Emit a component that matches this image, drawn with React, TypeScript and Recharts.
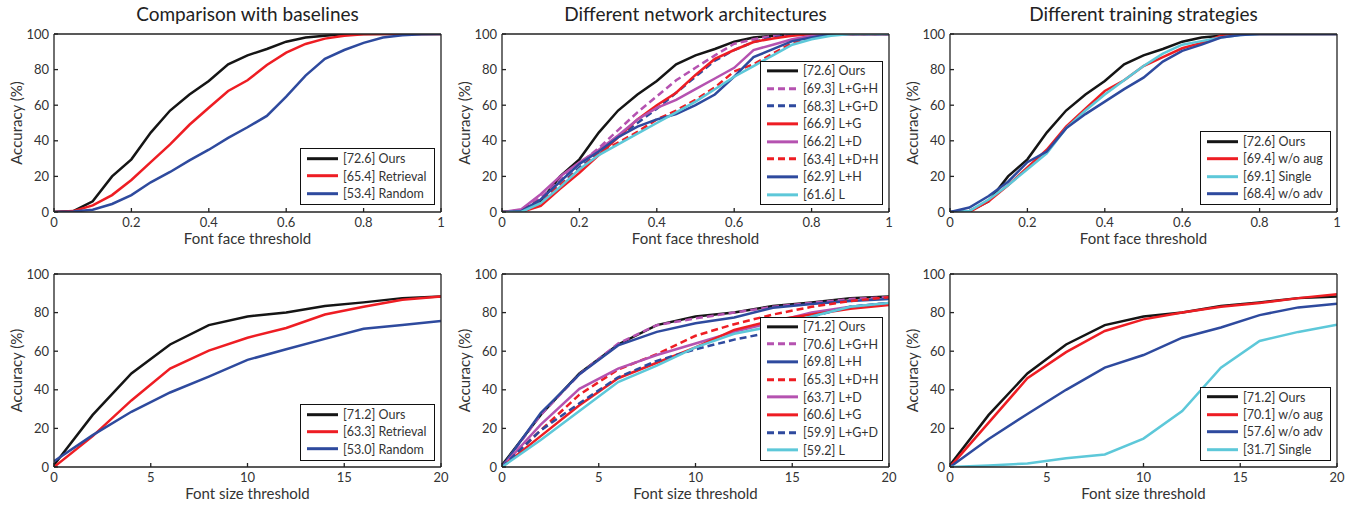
import React from 'react';
import { LineChart, Line, XAxis, YAxis, Legend } from 'recharts';

// ---------- data ----------
const FACE_X = [0, 0.05, 0.1, 0.15, 0.2, 0.25, 0.3, 0.35, 0.4, 0.45, 0.5, 0.55, 0.6, 0.65, 0.7, 0.75, 0.8, 0.85, 0.9, 0.95, 1];
const SIZE_X = [0, 2, 4, 6, 8, 10, 12, 14, 16, 18, 20];
const FACE_TICKS = [0, 0.2, 0.4, 0.6, 0.8, 1];
const SIZE_TICKS = [0, 5, 10, 15, 20];
const Y_TICKS = [0, 20, 40, 60, 80, 100];

const TITLES = ['Comparison with baselines', 'Different network architectures', 'Different training strategies'];
const FACE_LABEL = 'Font face threshold';
const SIZE_LABEL = 'Font size threshold';
const Y_LABEL = 'Accuracy (%)';

// font face – baselines
const faceOurs = [0, 0.5, 6, 20, 29.6, 44.6, 57, 66, 73.6, 83, 88, 91.6, 95.7, 98, 99, 100, 100, 100, 100, 100, 100];
const faceRetrieval = [0, 0.5, 3.7, 9.5, 18, 28, 38, 49, 58.6, 68, 74, 82.6, 89.5, 94.4, 97.4, 99, 99.8, 100, 100, 100, 100];
const faceRandom = [0, 0.3, 1.3, 4.5, 9.5, 16.7, 22.5, 29, 35, 41.6, 47.6, 54, 64.8, 76.6, 86, 91, 95, 98, 99.3, 99.8, 100];

// font face – architectures
const faceLGH = [0, 1, 8, 18, 27, 36, 46, 56, 65, 74, 81, 88, 94.5, 97, 99, 100, 100, 100, 100, 100, 100];
const faceLGD = [0, 0.5, 6, 15, 25, 33, 42, 50, 58, 67, 76, 85, 91, 95.5, 98, 99.5, 100, 100, 100, 100, 100];
const faceLG = [0, 0, 3.5, 13, 22, 32, 42, 52, 60, 67, 77, 86, 91, 95.5, 97.5, 99, 100, 100, 100, 100, 100];
const faceLD = [0, 1.5, 10, 20, 28, 35, 43, 52, 58.5, 63, 69, 75, 81, 91, 94, 97, 99, 100, 100, 100, 100];
const faceLDH = [0, 0.5, 7, 15, 24, 33, 39, 45, 52, 57, 63, 70, 79, 83, 89, 95, 98, 99.5, 100, 100, 100];
const faceLH = [0, 0.5, 7, 17, 27, 34, 42, 48, 52, 55, 60, 66, 76, 87, 91.5, 96, 98, 100, 100, 100, 100];
const faceL = [0, 0, 5, 14, 24, 32, 38, 44, 50, 56, 62, 69, 76, 82, 88, 94, 97, 99, 100, 100, 100];

// font face – training strategies
const faceNoAug = [0, 0, 6, 15, 25, 35, 48, 58, 68, 74, 82, 87, 92, 95, 99, 100, 100, 100, 100, 100, 100];
const faceSingle = [0, 0.5, 7, 15, 24, 33, 47, 57, 66, 74, 82, 89, 94, 96, 98, 99.5, 100, 100, 100, 100, 100];
const faceNoAdv = [0, 2.5, 9, 17, 28, 34, 47, 55, 62, 69, 75.5, 84.5, 90.5, 94, 98, 99.5, 100, 100, 100, 100, 100];

// font size – baselines
const sizeOurs = [1, 27, 48.5, 63.5, 73.5, 78, 80, 83.4, 85.3, 87.5, 88.4];
const sizeRetrieval = [0, 16, 34.5, 51, 60.3, 67, 72, 79, 83, 86.7, 88.4];
const sizeRandom = [3, 16.5, 28.6, 38.6, 46.8, 55.5, 61, 66.4, 71.6, 73.6, 75.7];

// font size – architectures
const sizeLGH = [0, 27, 48, 64, 73.5, 77, 80, 83, 85, 87, 88];
const sizeLH = [0, 28, 48, 63, 70, 74.5, 77.5, 82.5, 84.5, 86, 87];
const sizeLDH = [0, 19, 37.5, 50.5, 58.5, 68, 74, 79, 83, 86, 88];
const sizeLD = [0, 22, 40.5, 51, 58, 64, 70, 75, 80, 83, 85];
const sizeLG = [0, 16, 32, 46, 54, 62, 71, 76, 79, 82, 84];
const sizeLGD = [0, 19, 33, 46.5, 55, 61, 66, 70, 78, 83, 85];
const sizeL = [0, 14, 29, 44, 52.5, 62, 69, 73, 78, 83, 85];

// font size – training strategies
const sizeNoAug = [0, 23, 46, 59.5, 70.5, 76.5, 80, 83, 85, 87.5, 89.5];
const sizeNoAdv = [0, 14.5, 27.5, 40, 51.5, 58, 67, 72.3, 78.7, 82.7, 84.6];
const sizeSingle = [0, 0.8, 1.8, 4.5, 6.5, 14.7, 29, 51.5, 65.3, 70, 73.7];

// ---------- style ----------
const FONT = 'Lato, "Open Sans", sans-serif';
const C_BLACK = '#151515';
const C_RED = '#ee1d23';
const C_BLUE = '#2e4a9e';
const C_MAG = '#b552b0';
const C_CYAN = '#5dc8d9';
const AXIS = '#222';
const TEXT = '#333';

type Series = { key: string; name: string; color: string; dashed?: boolean; values: number[] };

const PLOT_W = 387;
const YW = 74;
const XH = 54;
const MT = 9;
const MR = 9;

type PanelProps = {
  left: number;
  top: number;
  h: number;
  xs: number[];
  xTicks: number[];
  xMax: number;
  xLabel: string;
  series: Series[];
  legendW: number;
  legendH: number;
  rowH: number;
  legendBottom: number;
};

function LegendBox({ series, w, h, rowH }: { series: Series[]; w: number; h: number; rowH: number }) {
  const border = 1.3;
  const pad = Math.max(0, (h - 2 * border - series.length * rowH) / 2);
  return (
    <div
      style={{
        width: w,
        height: h,
        boxSizing: 'border-box',
        border: `${border}px solid #111`,
        background: '#fff',
        paddingTop: pad,
        fontFamily: FONT,
        fontSize: 12.5,
        color: TEXT,
      }}
    >
      {series.map((s) => (
        <div key={s.key} style={{ height: rowH, display: 'flex', alignItems: 'center', whiteSpace: 'nowrap' }}>
          <svg width={42} height={rowH} style={{ flex: 'none' }}>
            <line
              x1={6}
              x2={37}
              y1={rowH / 2}
              y2={rowH / 2}
              stroke={s.color}
              strokeWidth={3}
              strokeDasharray={s.dashed ? '7 4' : undefined}
            />
          </svg>
          <span>{s.name}</span>
        </div>
      ))}
    </div>
  );
}

function Panel(p: PanelProps) {
  const data = p.xs.map((x, i) => {
    const row: Record<string, number> = { x };
    p.series.forEach((s) => {
      row[s.key] = s.values[i];
    });
    return row;
  });
  const W = YW + PLOT_W + MR + 1;
  const H = MT + 1 + p.h + XH;
  const tickStyle = { fill: TEXT, fontSize: 13, fontFamily: FONT };
  return (
    <div style={{ position: 'absolute', left: p.left - YW, top: p.top - MT - 1, width: W, height: H }}>
      <LineChart width={W} height={H} data={data} margin={{ top: MT, right: MR, left: 0, bottom: 0 }}>
        <XAxis
          dataKey="x"
          type="number"
          domain={[0, p.xMax]}
          ticks={p.xTicks}
          interval={0}
          allowDataOverflow
          height={XH}
          tickSize={-4}
          tickMargin={10}
          stroke={AXIS}
          strokeWidth={1.3}
          tick={tickStyle}
          label={{ value: p.xLabel, position: 'center', fill: TEXT, fontSize: 15, fontFamily: FONT }}
        />
        <XAxis
          xAxisId="top"
          orientation="top"
          type="number"
          domain={[0, p.xMax]}
          ticks={p.xTicks}
          interval={0}
          allowDataOverflow
          height={1}
          tickSize={-4}
          tick={false}
          stroke={AXIS}
          strokeWidth={1.3}
        />
        <YAxis
          type="number"
          domain={[0, 100]}
          ticks={Y_TICKS}
          interval={0}
          allowDataOverflow
          width={YW}
          tickSize={-4}
          tickMargin={9}
          stroke={AXIS}
          strokeWidth={1.3}
          tick={tickStyle}
          label={{ value: Y_LABEL, angle: -90, position: 'center', fill: TEXT, fontSize: 15, fontFamily: FONT }}
        />
        <YAxis
          yAxisId="right"
          orientation="right"
          type="number"
          domain={[0, 100]}
          ticks={Y_TICKS}
          interval={0}
          allowDataOverflow
          width={1}
          tickSize={-4}
          tick={false}
          stroke={AXIS}
          strokeWidth={1.3}
        />
        {p.series.map((s) => (
          <Line
            key={s.key}
            dataKey={s.key}
            name={s.name}
            type="linear"
            stroke={s.color}
            strokeWidth={2.5}
            strokeDasharray={s.dashed ? '7 4' : undefined}
            dot={false}
            activeDot={false}
            isAnimationActive={false}
          />
        ))}
        <Legend
          layout="vertical"
          align="center"
          verticalAlign="middle"
          wrapperStyle={{ right: MR + 1 + 6, bottom: XH + p.legendBottom }}
          content={() => <LegendBox series={p.series} w={p.legendW} h={p.legendH} rowH={p.rowH} />}
        />
      </LineChart>
    </div>
  );
}

const COL_LEFT = [54, 502, 950];
const TOP_Y = 34;
const TOP_H = 178;
const BOT_Y = 274;
const BOT_H = 193;

export default function App() {
  const faceBase: Series[] = [
    { key: 'ours', name: '[72.6] Ours', color: C_BLACK, values: faceOurs },
    { key: 'ret', name: '[65.4] Retrieval', color: C_RED, values: faceRetrieval },
    { key: 'rnd', name: '[53.4] Random', color: C_BLUE, values: faceRandom },
  ];
  const faceArch: Series[] = [
    { key: 'ours', name: '[72.6] Ours', color: C_BLACK, values: faceOurs },
    { key: 'lgh', name: '[69.3] L+G+H', color: C_MAG, dashed: true, values: faceLGH },
    { key: 'lgd', name: '[68.3] L+G+D', color: C_BLUE, dashed: true, values: faceLGD },
    { key: 'lg', name: '[66.9] L+G', color: C_RED, values: faceLG },
    { key: 'ld', name: '[66.2] L+D', color: C_MAG, values: faceLD },
    { key: 'ldh', name: '[63.4] L+D+H', color: C_RED, dashed: true, values: faceLDH },
    { key: 'lh', name: '[62.9] L+H', color: C_BLUE, values: faceLH },
    { key: 'l', name: '[61.6] L', color: C_CYAN, values: faceL },
  ];
  const faceTrain: Series[] = [
    { key: 'ours', name: '[72.6] Ours', color: C_BLACK, values: faceOurs },
    { key: 'noaug', name: '[69.4] w/o aug', color: C_RED, values: faceNoAug },
    { key: 'single', name: '[69.1] Single', color: C_CYAN, values: faceSingle },
    { key: 'noadv', name: '[68.4] w/o adv', color: C_BLUE, values: faceNoAdv },
  ];
  const sizeBase: Series[] = [
    { key: 'ours', name: '[71.2] Ours', color: C_BLACK, values: sizeOurs },
    { key: 'ret', name: '[63.3] Retrieval', color: C_RED, values: sizeRetrieval },
    { key: 'rnd', name: '[53.0] Random', color: C_BLUE, values: sizeRandom },
  ];
  const sizeArch: Series[] = [
    { key: 'ours', name: '[71.2] Ours', color: C_BLACK, values: sizeOurs },
    { key: 'lgh', name: '[70.6] L+G+H', color: C_MAG, dashed: true, values: sizeLGH },
    { key: 'lh', name: '[69.8] L+H', color: C_BLUE, values: sizeLH },
    { key: 'ldh', name: '[65.3] L+D+H', color: C_RED, dashed: true, values: sizeLDH },
    { key: 'ld', name: '[63.7] L+D', color: C_MAG, values: sizeLD },
    { key: 'lg', name: '[60.6] L+G', color: C_RED, values: sizeLG },
    { key: 'lgd', name: '[59.9] L+G+D', color: C_BLUE, dashed: true, values: sizeLGD },
    { key: 'l', name: '[59.2] L', color: C_CYAN, values: sizeL },
  ];
  const sizeTrain: Series[] = [
    { key: 'ours', name: '[71.2] Ours', color: C_BLACK, values: sizeOurs },
    { key: 'noaug', name: '[70.1] w/o aug', color: C_RED, values: sizeNoAug },
    { key: 'noadv', name: '[57.6] w/o adv', color: C_BLUE, values: sizeNoAdv },
    { key: 'single', name: '[31.7] Single', color: C_CYAN, values: sizeSingle },
  ];

  const legendDims = [
    { w: 135, n: 3 },
    { w: 123, n: 8 },
    { w: 131, n: 4 },
  ];
  const legendH = (n: number) => (n === 3 ? 57 : n === 8 ? 144 : 74);
  const rowH = (n: number) => (n === 8 ? 17.7 : 17.4);

  const faceSets = [faceBase, faceArch, faceTrain];
  const sizeSets = [sizeBase, sizeArch, sizeTrain];

  return (
    <div style={{ position: 'absolute', left: 0, top: 0, width: 1357, height: 506, background: '#fff', overflow: 'hidden' }}>
      {TITLES.map((t, i) => (
        <div
          key={t}
          style={{
            position: 'absolute',
            left: COL_LEFT[i],
            top: 3,
            width: PLOT_W,
            textAlign: 'center',
            fontFamily: FONT,
            fontSize: 19,
            lineHeight: '22px',
            color: '#222',
          }}
        >
          {t}
        </div>
      ))}
      {faceSets.map((s, i) => (
        <Panel
          key={'f' + i}
          left={COL_LEFT[i]}
          top={TOP_Y}
          h={TOP_H}
          xs={FACE_X}
          xTicks={FACE_TICKS}
          xMax={1}
          xLabel={FACE_LABEL}
          series={s}
          legendW={legendDims[i].w}
          legendH={legendH(legendDims[i].n)}
          rowH={rowH(legendDims[i].n)}
          legendBottom={7}
        />
      ))}
      {sizeSets.map((s, i) => (
        <Panel
          key={'s' + i}
          left={COL_LEFT[i]}
          top={BOT_Y}
          h={BOT_H}
          xs={SIZE_X}
          xTicks={SIZE_TICKS}
          xMax={20}
          xLabel={SIZE_LABEL}
          series={s}
          legendW={legendDims[i].w}
          legendH={legendH(legendDims[i].n)}
          rowH={rowH(legendDims[i].n)}
          legendBottom={6.5}
        />
      ))}
    </div>
  );
}
